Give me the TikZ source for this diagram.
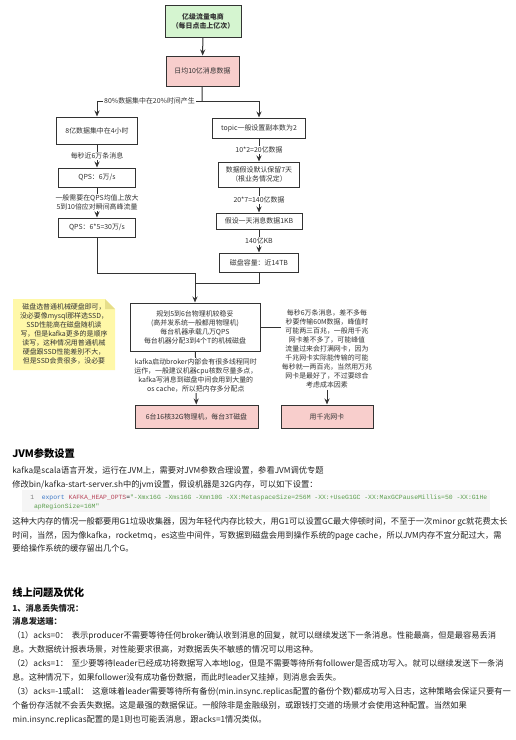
\documentclass[tikz,border=0pt]{standalone}
\usepackage{fontspec}
\setmainfont{Noto Sans CJK SC}
\newfontfamily\codefont{Liberation Mono}
\usetikzlibrary{arrows.meta}

\definecolor{boxgreen}{HTML}{D5F5D0}
\definecolor{boxpink}{HTML}{F8CECC}
\definecolor{boxline}{HTML}{333333}
\definecolor{notefill}{HTML}{FFF8A8}
\definecolor{notefold}{HTML}{E6DE8A}
\definecolor{codebg}{HTML}{F5F5F5}
\definecolor{codeblue}{HTML}{3C78C8}
\definecolor{codered}{HTML}{B8455A}
\definecolor{codegreen}{HTML}{5C9E4E}
\definecolor{inktext}{HTML}{222222}

\begin{document}
\begin{tikzpicture}[x=0.75pt,y=0.75pt,yscale=-1,xscale=1,
	box/.style={draw=boxline, line width=0.75pt, fill=white, align=center, inner sep=1pt, text=boxline, font=\fontsize{5.2}{6.75}\selectfont},
	greenbox/.style={box, fill=boxgreen},
	pinkbox/.style={box, fill=boxpink},
	lbl/.style={fill=white, inner sep=0.75pt, align=center, text=boxline, font=\fontsize{5.2}{6.75}\selectfont},
	link/.style={draw=boxline, line width=0.75pt},
	flow/.style={link, -{Stealth[length=4.5pt,width=3.8pt]}},
	body/.style={anchor=north west, inner sep=0pt, align=left, text=inktext, font=\fontsize{6.2}{10.3}\selectfont},
	head/.style={anchor=north west, inner sep=0pt, text=black, font=\fontsize{7.7}{9}\selectfont\bfseries}]
	\useasboundingbox (0,0) rectangle (515,740);

	%Flowchart boxes
	\node [greenbox, minimum width=57pt, minimum height=24pt] (top) at (203,21) {\bfseries 亿级流量电商\\\bfseries （每日点击上亿次）};
	\node [pinkbox, minimum width=54.75pt, minimum height=22.5pt] (day) at (202.5,71) {日均10亿消息数据};
	\node [box, minimum width=60.75pt, minimum height=20.25pt] (peak) at (97,130.5) {8亿数据集中在4小时};
	\node [box, minimum width=57.75pt, minimum height=14.25pt] (qps) at (97,177.5) {QPS：6万/s};
	\node [box, minimum width=57.75pt, minimum height=14.25pt] (qpsmax) at (97,227.5) {QPS：6*5=30万/s};
	\node [box, minimum width=69.75pt, minimum height=15pt] (topic) at (259,128) {topic一般设置副本数为2};
	\node [box, minimum width=60.75pt, minimum height=18.75pt] (keep) at (259,174.5) {数据假设默认保留7天\\（根业务情况定）};
	\node [box, minimum width=64.5pt, minimum height=12pt] (size) at (259,221) {假设一天消息数据1KB};
	\node [box, minimum width=59.25pt, minimum height=14.25pt] (disk) at (259,262.5) {磁盘容量：近14TB};
	\node [box, minimum width=97.5pt, minimum height=36pt] (plan) at (195,327) {规划5到6台物理机较稳妥\\(高并发系统一般都用物理机)\\每台机器承载几万QPS\\每台机器分配3到4个T的机械磁盘};
	\node [pinkbox, minimum width=92.25pt, minimum height=17.25pt] (server) at (196.5,416.5) {6台16核32G物理机，每台3T磁盘};
	\node [pinkbox, minimum width=69pt, minimum height=17.25pt] (nic) at (327,416.5) {用千兆网卡};

	%Note
	\fill [notefill] (13,299) -- (105,299) -- (115,309) -- (115,370) -- (13,370) -- cycle;
	\fill [notefold] (105,299) -- (115,309) -- (105,309) -- cycle;
	\node [lbl, fill=none] (note) at (64,333.5) {磁盘选普通机械硬盘即可，\\没必要像mysql那样选SSD，\\SSD性能高在磁盘随机读\\写，但是kafka更多的是顺序\\读写，这种情况用普通机械\\硬盘跟SSD性能差别不大，\\但是SSD会贵很多，没必要};

	% Text Node
	\node [lbl, fill=none] (info) at (327,349) {每秒6万条消息，差不多每\\秒要传输60M数据，峰值时\\可能两三百兆，一般用千兆\\网卡差不多了，可能峰值\\流量过来会打满网卡，因为\\千兆网卡实际能传输的可能\\每秒就一两百兆，当然用万兆\\网卡是最好了，不过要综合\\考虑成本因素};

	%Connectors
	\coordinate (split) at (202,101);
	\coordinate (join) at (195,273);
	\coordinate (merge) at (195,283);
	\draw [flow] (top) -- (day);
	\draw [link] (day) -- (split);
	\draw [flow] (split) -| node [lbl, pos=0.25] {80\%数据集中在20\%时间产生} (peak);
	\draw [flow] (split) -| (topic);
	\draw [flow] (peak) -- node [lbl] {每秒近6万条消息} (qps);
	\draw [flow] (qps) -- node [lbl] {一般需要在QPS均值上放大\\5到10倍应对瞬间高峰流量} (qpsmax);
	\draw [flow] (topic) -- node [lbl] {10*2=20亿数据} (keep);
	\draw [flow] (keep) -- node [lbl] {20*7=140亿数据} (size);
	\draw [flow] (size) -- node [lbl] {140亿KB} (disk);
	\draw [flow] (qpsmax) |- (join) -- (plan);
	\draw [link] (disk) |- (merge);
	\draw [flow] (plan) -- node [lbl, pos=0.45] {kafka启动broker内部会有很多线程同时\\运作，一般建议机器cpu核数尽量多点，\\kafka写消息到磁盘中间会用到大量的\\os cache，所以把内存多分配点} (server);
	\draw [link] (plan.east) -- (plan.east -| info.west);
	\draw [flow] (info) -- (nic);

	% Text Node
	\node [head] (jvmhead) at (12,448) {JVM参数设置};
	\node [body] (jvmintro) at (12,466) {kafka是scala语言开发，运行在JVM上，需要对JVM参数合理设置，参看JVM调优专题};
	\node [body] (jvmedit) at (12,480) {修改bin/kafka-start-server.sh中的jvm设置，假设机器是32G内存，可以如下设置：};
	\fill [codebg] (22,490) rectangle (490,512);
	\node [anchor=north west, inner sep=0pt, align=left, font=\codefont\fontsize{4.8}{6.75}\selectfont] (code) at (30,494.5) {{\color{gray}1}\ \ {\color{codeblue}export} {\color{codered}KAFKA\_HEAP\_OPTS}={\color{codegreen}"-Xmx16G -Xms16G -Xmn10G -XX:MetaspaceSize=256M -XX:+UseG1GC -XX:MaxGCPauseMillis=50 -XX:G1He}\\{\color{codegreen}\ apRegionSize=16M"}};
	\node [body] (jvmnote) at (12,517) {这种大内存的情况一般都要用G1垃圾收集器，因为年轻代内存比较大，用G1可以设置GC最大停顿时间，不至于一次minor gc就花费太长\\时间，当然，因为像kafka，rocketmq，es这些中间件，写数据到磁盘会用到操作系统的page cache，所以JVM内存不宜分配过大，需\\要给操作系统的缓存留出几个G。};

	\node [head] (onlinehead) at (12,587) {线上问题及优化};
	\node [body, font=\fontsize{6.2}{10.3}\selectfont\bfseries] (losshead) at (12,604) {1、消息丢失情况：};
	\node [body, font=\fontsize{6.2}{10.3}\selectfont\bfseries] (sendhead) at (12,617) {消息发送端：};
	\node [body, font=\fontsize{6.2}{10.5}\selectfont] (acks) at (12,631) {（1）acks=0：\ \ 表示producer不需要等待任何broker确认收到消息的回复，就可以继续发送下一条消息。性能最高，但是最容易丢消\\息。大数据统计报表场景，对性能要求很高，对数据丢失不敏感的情况可以用这种。\\（2）acks=1：\ \ 至少要等待leader已经成功将数据写入本地log，但是不需要等待所有follower是否成功写入。就可以继续发送下一条消\\息。这种情况下，如果follower没有成功备份数据，而此时leader又挂掉，则消息会丢失。\\（3）acks=-1或all：\ \ 这意味着leader需要等待所有备份(min.insync.replicas配置的备份个数)都成功写入日志，这种策略会保证只要有一\\个备份存活就不会丢失数据。这是最强的数据保证。一般除非是金融级别，或跟钱打交道的场景才会使用这种配置。当然如果\\min.insync.replicas配置的是1则也可能丢消息，跟acks=1情况类似。};
\end{tikzpicture}
\end{document}
